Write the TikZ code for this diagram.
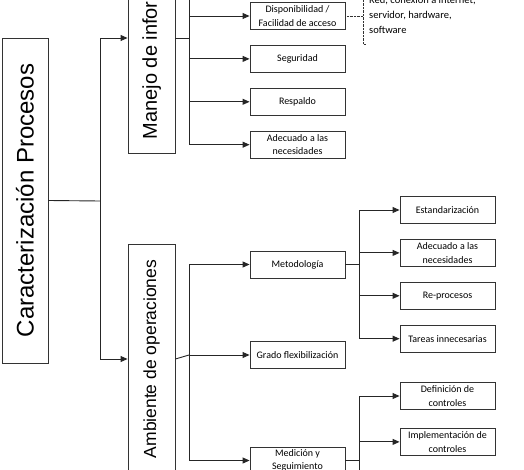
\documentclass[tikz,border=0pt]{standalone}
\usepackage{fontspec}
\setmainfont{Carlito}
\newfontfamily\arialfont{Liberation Sans}
\usepackage{graphicx}
\usetikzlibrary{arrows.meta, positioning}

\begin{document}
\begin{tikzpicture}[
    x=1pt, y=-1pt,
    bigbox/.style={draw=black!80, rectangle, minimum width=47pt, minimum height=230pt, line width=0.9pt, inner sep=0pt},
    subbox/.style={draw=black!80, rectangle, minimum width=95pt, minimum height=27pt, align=center, line width=0.9pt, inner sep=1pt, font=\fontsize{10}{13.5}\selectfont},
    arr/.style={-{Triangle[length=7pt, width=6pt]}, line width=0.9pt, draw=black!85},
    lin/.style={line width=0.9pt, draw=black!85},
    node distance=15pt
]
    \clip (0,0) rectangle (524,470);
    \useasboundingbox (0,0) rectangle (524,470);

    % Root
    \node[bigbox, minimum width=46pt, minimum height=325pt] (root) at (25,200.5)
        {\rotatebox{90}{\arialfont\fontsize{24}{28}\selectfont Caracterización Procesos}};

    % Level 1
    \node[bigbox] (manejo) at (151.5,38)
        {\rotatebox{90}{\arialfont\fontsize{20}{24}\selectfont Manejo de información}};
    \node[bigbox] (ambiente) at (151.5,359)
        {\rotatebox{90}{\arialfont\fontsize{17.5}{21}\selectfont Ambiente de operaciones}};

    % Level 2 (informacion)
    \node[subbox] (disp) at (297.5,16) {Disponibilidad /\\Facilidad de acceso};
    \node[subbox, below=of disp] (segur) {Seguridad};
    \node[subbox, below=of segur] (resp) {Respaldo};
    \node[subbox, below=of resp] (adecA) {Adecuado a las\\necesidades};

    % Level 2 (operaciones)
    \node[subbox] (metod) at (297.5,264.5) {Metodología};
    \node[subbox] (grado) at (297.5,355) {Grado flexibilización};
    \node[subbox] (medic) at (297.5,460.5) {Medición y\\Seguimiento};

    % Level 3
    \node[subbox] (estand) at (447.5,210) {Estandarización};
    \node[subbox, below=of estand] (adecB) {Adecuado a las\\necesidades};
    \node[subbox, below=of adecB] (reproc) {Re-procesos};
    \node[subbox, below=of reproc] (tareas) {Tareas innecesarias};
    \node[subbox] (defin) at (447.5,396) {Definición de\\controles};
    \node[subbox, below=18pt of defin] (implem) {Implementación de\\controles};

    % Note
    \node[anchor=west, align=left, inner sep=0pt, font=\fontsize{10.5}{15}\selectfont] (note) at (369,15)
        {Red, conexión a internet,\\servidor, hardware,\\software};

    % Forks
    \coordinate (forkA) at (100,201);
    \coordinate (forkB) at (189,38);
    \coordinate (topB) at (189,-10);
    \coordinate (forkC) at (189,355);
    \coordinate (forkD) at (359,264.5);
    \coordinate (forkE) at (359,460.5);
    \coordinate (botE) at (359,480);
    \coordinate (noteTop) at (363,-10);
    \coordinate (noteBot) at (363,44);

    % Arrows root
    \draw[lin] (root.east) -- (forkA);
    \draw[arr] (forkA) |- (manejo.west);
    \draw[arr] (forkA) |- (ambiente.west);

    % Arrows informacion
    \draw[lin] (manejo.east) -- (forkB);
    \draw[lin] (forkB) -- (topB);
    \foreach \n in {disp, segur, resp, adecA}
        \draw[arr] (forkB) |- (\n.west);

    % Arrows operaciones
    \draw[lin] (ambiente.east) -- (forkC);
    \foreach \n in {metod, grado, medic}
        \draw[arr] (forkC) |- (\n.west);

    \draw[lin] (metod.east) -- (forkD);
    \foreach \n in {estand, adecB, reproc, tareas}
        \draw[arr] (forkD) |- (\n.west);

    \draw[lin] (medic.east) -- (forkE);
    \draw[lin] (forkE) -- (botE);
    \foreach \n in {defin, implem}
        \draw[arr] (forkE) |- (\n.west);

    % Note bracket
    \draw[densely dotted, black!80] (disp.east) -- (disp.east -| noteTop);
    \draw[densely dotted, black!80] (noteTop) -- (noteBot) -- ++(3,0);
\end{tikzpicture}
\end{document}
